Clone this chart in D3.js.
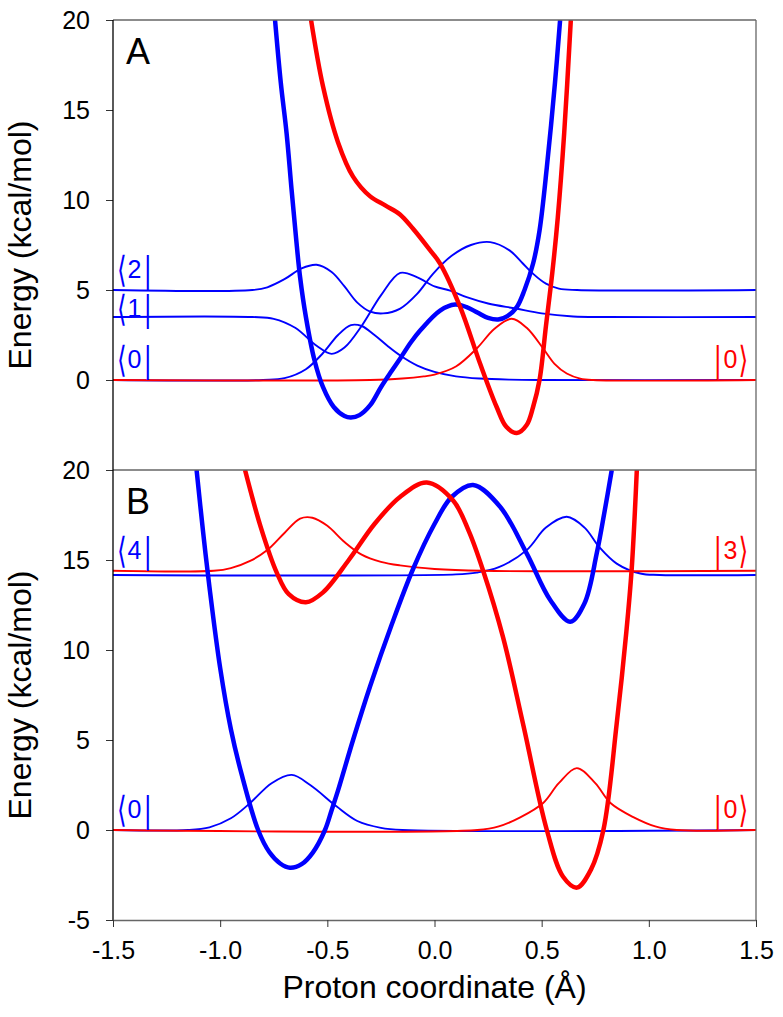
<!DOCTYPE html>
<html lang="en">
<head>
<meta charset="utf-8">
<script src="https://d3js.org/d3.v7.min.js"></script>
<style>
  body { margin: 0; background: #fff; }
  svg text { font-family: "Liberation Sans", Arial, sans-serif; }
</style>
</head>
<body>
<script>
// ---- data: [proton coordinate (A), energy (kcal/mol)] ----

// panel A
var aBluePot = [[-0.744,20],[-0.717,16.5],[-0.69,13.7],[-0.667,10.6],[-0.646,7.9],[-0.627,5.7],[-0.6,3.5],[-0.56,1.1],[-0.52,-0.4],[-0.47,-1.5],[-0.42,-2.0],[-0.39,-2.08],[-0.35,-1.95],[-0.3,-1.4],[-0.25,-0.4],[-0.2,0.5],[-0.16,1.2],[-0.11,2.1],[-0.067,2.75],[0.026,3.86],[0.096,4.19],[0.15,4.05],[0.2,3.75],[0.25,3.45],[0.297,3.36],[0.34,3.55],[0.384,4.05],[0.42,5.0],[0.46,6.47],[0.49,8.3],[0.524,11.8],[0.562,16.5],[0.586,20]];
var aRedPot = [[-0.576,20],[-0.52,16.3],[-0.45,13.2],[-0.38,11.3],[-0.3,10.2],[-0.23,9.7],[-0.161,9.2],[-0.1,8.4],[-0.02,7.2],[0.026,6.47],[0.12,4.05],[0.213,0.9],[0.29,-1.5],[0.335,-2.6],[0.384,-2.95],[0.43,-2.5],[0.46,-1.5],[0.49,0],[0.52,3.0],[0.55,6.0],[0.575,9.0],[0.605,13.7],[0.636,20]];
var aBra0 = [[-1.5,0],[-0.8,0],[-0.7,0.1],[-0.6,0.6],[-0.52,1.5],[-0.45,2.5],[-0.39,3.05],[-0.34,3.0],[-0.28,2.5],[-0.22,1.9],[-0.16,1.36],[-0.08,0.8],[0.0,0.45],[0.1,0.2],[0.21,0.08],[0.35,0.02],[0.5,0],[1.5,0]];
var aBra1 = [[-1.5,3.5],[-0.85,3.5],[-0.75,3.4],[-0.65,2.9],[-0.55,1.9],[-0.48,1.45],[-0.42,1.8],[-0.34,3.0],[-0.25,4.7],[-0.16,5.95],[-0.08,5.7],[0.0,5.2],[0.073,4.97],[0.15,4.6],[0.25,4.25],[0.38,3.97],[0.5,3.7],[0.647,3.53],[0.8,3.5],[1.5,3.5]];
var aBra2 = [[-1.5,5],[-0.85,5],[-0.78,5.15],[-0.7,5.6],[-0.62,6.2],[-0.55,6.4],[-0.48,6.0],[-0.42,5.2],[-0.36,4.3],[-0.3,3.8],[-0.24,3.7],[-0.16,3.97],[-0.08,4.8],[-0.007,5.9],[0.08,6.9],[0.17,7.5],[0.26,7.66],[0.35,7.2],[0.41,6.5],[0.46,5.9],[0.52,5.35],[0.58,5.08],[0.665,5.0],[1.5,5]];
var aKet0 = [[-1.5,0],[-0.3,0],[-0.15,0.08],[-0.05,0.2],[0.0,0.3],[0.1,0.75],[0.197,1.75],[0.28,2.85],[0.36,3.4],[0.43,2.9],[0.507,1.75],[0.56,0.9],[0.617,0.36],[0.68,0.08],[0.74,0],[1.5,0]];

// panel B
var bBluePot = [[-1.11,20],[-1.08,16.6],[-1.05,13.5],[-1.0,9.0],[-0.95,5.6],[-0.9,3.1],[-0.823,0],[-0.77,-1.24],[-0.72,-1.86],[-0.674,-2.1],[-0.62,-1.9],[-0.567,-1.24],[-0.511,0],[-0.48,1.1],[-0.45,2.2],[-0.38,5.0],[-0.3,8.0],[-0.2,11.4],[-0.1,14.5],[0.0,17.0],[0.08,18.5],[0.18,19.17],[0.306,17.96],[0.43,15.37],[0.54,12.78],[0.633,11.57],[0.7,12.6],[0.757,15.37],[0.795,17.8],[0.827,20]];
var bRedPot = [[-0.884,20],[-0.81,16.8],[-0.736,14.3],[-0.68,13.1],[-0.6,12.65],[-0.52,13.2],[-0.4,15.0],[-0.28,17.0],[-0.161,18.5],[-0.036,19.3],[0.087,18.3],[0.16,16.6],[0.227,14.4],[0.32,10.7],[0.413,5.9],[0.524,0],[0.6,-2.6],[0.665,-3.2],[0.73,-2.2],[0.788,0],[0.85,5.9],[0.895,11.0],[0.92,14.5],[0.944,20]];
var bBra0 = [[-1.5,0],[-1.15,0],[-1.05,0.15],[-0.95,0.65],[-0.86,1.5],[-0.76,2.6],[-0.666,3.06],[-0.58,2.5],[-0.456,1.3],[-0.36,0.5],[-0.25,0.12],[-0.15,0],[1.5,0]];
var bBra4 = [[-1.5,14.17],[0.1,14.2],[0.197,14.3],[0.3,14.6],[0.43,15.55],[0.52,16.8],[0.617,17.4],[0.7,16.8],[0.77,15.7],[0.85,14.8],[0.96,14.25],[1.05,14.17],[1.5,14.17]];
var bKet0 = [[-1.5,0],[0.2,0],[0.3,0.2],[0.4,0.7],[0.507,1.5],[0.58,2.6],[0.664,3.44],[0.75,2.6],[0.821,1.5],[0.93,0.7],[1.03,0.2],[1.13,0],[1.5,0]];
var bKet3 = [[-1.5,14.4],[-1.03,14.4],[-0.95,14.55],[-0.86,14.95],[-0.78,15.55],[-0.7,16.5],[-0.627,17.3],[-0.57,17.35],[-0.5,16.9],[-0.42,16.0],[-0.34,15.3],[-0.25,14.9],[-0.161,14.7],[0.0,14.5],[0.227,14.4],[1.5,14.4]];

// tick values and state labels
var xTicks = [-1.5,-1.0,-0.5,0.0,0.5,1.0,1.5];
var yTicksA = [0,5,10,15,20];
var yTicksB = [-5,0,5,10,15,20];
var labelsA = [{n:"2", e:5, kind:"bra"}, {n:"1", e:2.85, kind:"bra"}, {n:"0", e:0, kind:"bra"}, {n:"0", e:0, kind:"ket"}];
var labelsB = [{n:"4", e:14.4, kind:"bra"}, {n:"3", e:14.4, kind:"ket"}, {n:"0", e:0, kind:"bra"}, {n:"0", e:0, kind:"ket"}];

var BLUE = "#0000ff", RED = "#ff0000";

var svg = d3.select("body").append("svg")
  .attr("width", 783)
  .attr("height", 1017);

var left = 113, right = 756;
var x = d3.scaleLinear().domain([-1.5, 1.5]).range([left, right]);
var yA = d3.scaleLinear().domain([-5, 20]).range([470, 20]);
var yB = d3.scaleLinear().domain([-5, 20]).range([920, 470]);

function panel(id, y, pots, waves, labels, letter, ticks) {
  var g = svg.append("g");
  svg.append("clipPath").attr("id", id)
    .append("rect").attr("x", left).attr("y", y.range()[1])
    .attr("width", right - left).attr("height", y.range()[0] - y.range()[1]);

  var line = d3.line()
    .x(function(d) { return x(d[0]); })
    .y(function(d) { return y(d[1]); })
    .curve(d3.curveCatmullRom.alpha(0.5));

  var c = g.append("g").attr("clip-path", "url(#" + id + ")");
  waves.forEach(function(w) {
    c.append("path").attr("d", line(w.data)).attr("fill", "none")
      .attr("stroke", w.color).attr("stroke-width", 1.9);
  });
  pots.forEach(function(p) {
    c.append("path").attr("d", line(p.data)).attr("fill", "none")
      .attr("stroke", p.color).attr("stroke-width", 4.5)
      .attr("stroke-linejoin", "round");
  });

  // frame: top and right in grey
  g.append("line").attr("x1", left).attr("x2", right)
    .attr("y1", y.range()[1]).attr("y2", y.range()[1])
    .attr("stroke", "#666").attr("stroke-width", 1.3);
  g.append("line").attr("x1", right).attr("x2", right)
    .attr("y1", y.range()[1]).attr("y2", y.range()[0])
    .attr("stroke", "#666").attr("stroke-width", 1.3);

  var ax = g.append("g").attr("transform", "translate(" + left + ",0)")
    .call(d3.axisLeft(y).tickValues(ticks).tickSize(7).tickSizeOuter(0).tickPadding(16)
      .tickFormat(function(d) { return String(d); }));
  ax.select(".domain").remove();
  ax.selectAll("line").attr("stroke", "#333");
  ax.selectAll("text").attr("font-size", 25).attr("fill", "#000")
    .style("font-family", "Liberation Sans, Arial, sans-serif");

  g.append("text").attr("x", 126).attr("y", y.range()[1] + 44)
    .attr("font-size", 36).attr("fill", "#000").text(letter);

  g.append("text")
    .attr("transform", "translate(31," + ((y.range()[0] + y.range()[1]) / 2) + ") rotate(-90)")
    .attr("text-anchor", "middle").attr("font-size", 32).attr("fill", "#000")
    .text("Energy (kcal/mol)");

  labels.forEach(function(l) {
    var col = l.kind === "bra" ? BLUE : RED;
    var yb = y(l.e);
    var lg = g.append("g").attr("fill", col);
    var open = l.kind === "bra" ? "\u27E8" : "|";
    var close = l.kind === "bra" ? "|" : "\u27E9";
    var bx1 = l.kind === "bra" ? 116.5 : 714.5;
    var bx2 = l.kind === "bra" ? 144.5 : 738.5;
    lg.append("text").attr("transform", "translate(" + bx1 + "," + (yb - 8) + ") scale(1,1.45)")
      .attr("font-size", 25)
      .style("font-family", l.kind === "bra" ? "DejaVu Sans" : "Liberation Sans")
      .style("font-weight", l.kind === "bra" ? "200" : "normal")
      .text(open);
    lg.append("text").attr("x", l.kind === "bra" ? 127.5 : 723.5).attr("y", yb - 12)
      .attr("font-size", 25).text(l.n);
    lg.append("text").attr("transform", "translate(" + bx2 + "," + (yb - 8) + ") scale(1,1.45)")
      .attr("font-size", 25)
      .style("font-family", l.kind === "bra" ? "Liberation Sans" : "DejaVu Sans")
      .text(close);
  });
  return g;
}

panel("clipA", yA,
  [{data: aBluePot, color: BLUE}, {data: aRedPot, color: RED}],
  [{data: aBra2, color: BLUE}, {data: aBra1, color: BLUE}, {data: aBra0, color: BLUE}, {data: aKet0, color: RED}],
  labelsA, "A", yTicksA);

panel("clipB", yB,
  [{data: bBluePot, color: BLUE}, {data: bRedPot, color: RED}],
  [{data: bBra4, color: BLUE}, {data: bBra0, color: BLUE}, {data: bKet3, color: RED}, {data: bKet0, color: RED}],
  labelsB, "B", yTicksB);

// left axis line across both panels
svg.append("line").attr("x1", left).attr("x2", left).attr("y1", 20).attr("y2", 920)
  .attr("stroke", "#000").attr("stroke-width", 1.3);

// bottom axis
var bx = svg.append("g").attr("transform", "translate(0,920)")
  .call(d3.axisBottom(x).tickValues(xTicks).tickSize(7).tickSizeOuter(0).tickPadding(14)
    .tickFormat(function(d) { return d.toFixed(1); }));
bx.select(".domain").attr("stroke", "#666").attr("stroke-width", 1.3);
bx.selectAll("line").attr("stroke", "#333");
bx.selectAll("text").attr("font-size", 25).attr("fill", "#000")
  .style("font-family", "Liberation Sans, Arial, sans-serif");

svg.append("text").attr("x", (left + right) / 2).attr("y", 998)
  .attr("text-anchor", "middle").attr("font-size", 32).attr("fill", "#000")
  .text("Proton coordinate (\u00C5)");
</script>
</body>
</html>
